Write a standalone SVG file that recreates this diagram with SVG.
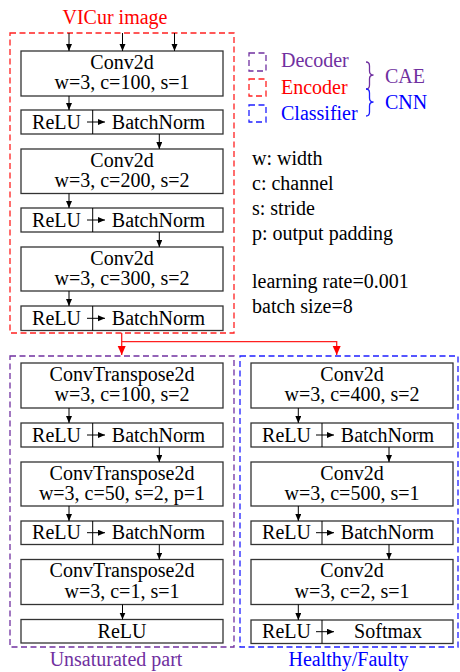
<svg xmlns="http://www.w3.org/2000/svg" width="460" height="672" viewBox="0 0 460 672" font-family="'Liberation Serif', 'Times New Roman', Times, 'DejaVu Serif', serif">
<defs>
<style>
text{font-family:'Liberation Serif', 'Times New Roman', Times, 'DejaVu Serif', serif;font-size:20px;fill:#000}
.c{text-anchor:middle}
.box{fill:#fff;stroke:#333;stroke-width:1.3}
.ln{stroke:#000;stroke-width:1;fill:none}
.red{fill:none;stroke:#FF2020;stroke-width:1.3;stroke-dasharray:6 3.5}
.pur{fill:none;stroke:#7030A0;stroke-width:1.3;stroke-dasharray:6 3.5}
.blu{fill:none;stroke:#1F1FFF;stroke-width:1.3;stroke-dasharray:6 3.5}
.tp{fill:#7030A0}.tr{fill:#FF0000}.tb{fill:#0000FF}
</style>
<marker id="a" markerUnits="userSpaceOnUse" markerWidth="8" markerHeight="8" refX="7" refY="3" orient="auto"><path d="M0,0 L7,3 L0,6 Z" fill="#000"/></marker>
<marker id="ar" markerUnits="userSpaceOnUse" markerWidth="10" markerHeight="10" refX="9" refY="4" orient="auto"><path d="M0,0 L9,4 L0,8 Z" fill="#FF0000"/></marker>
</defs>

<text class="c tr" x="115" y="24">VICur image</text>
<rect class="red" x="10" y="33" width="224" height="300"/>
<rect class="pur" x="10" y="356" width="224" height="291"/>
<rect class="blu" x="240" y="356" width="218" height="291"/>
<text class="c tp" x="116" y="666">Unsaturated part</text>
<text class="c tb" x="348.5" y="666">Healthy/Faulty</text>

<g id="legend">
<rect class="pur" x="249" y="53" width="17" height="18" stroke-dasharray="5 3"/>
<rect class="red" x="249" y="79" width="17" height="17" stroke-dasharray="5 3"/>
<rect class="blu" x="249" y="105" width="17" height="17" stroke-dasharray="5 3"/>
<text class="tp" x="281" y="67">Decoder</text>
<text class="tr" x="281" y="93.5">Encoder</text>
<text class="tb" x="281" y="120">Classifier</text>
<path d="M366,62 Q369.5,62 369.5,66 L369.5,71 Q369.5,75 373.5,75 Q369.5,75 369.5,79 L369.5,85 Q369.5,89 366,89" fill="none" stroke="#7030A0" stroke-width="1.3"/>
<path d="M366,89 Q369.5,89 369.5,93 L369.5,98 Q369.5,102 373.5,102 Q369.5,102 369.5,106 L369.5,112 Q369.5,116 366,116" fill="none" stroke="#1F1FFF" stroke-width="1.3"/>
<text class="tp" x="385" y="83">CAE</text>
<text class="tb" x="385" y="108.5">CNN</text>
<text x="252" y="165">w: width</text>
<text x="252" y="190">c: channel</text>
<text x="252" y="215">s: stride</text>
<text x="252" y="240">p: output padding</text>
<text x="252" y="288">learning rate=0.001</text>
<text x="252" y="313">batch size=8</text>
</g>

<g id="enc_conv1"><rect class="box" x="21" y="51" width="202" height="45"/><text class="c" x="122" y="68.5">Conv2d</text><text class="c" x="122" y="89">w=3, c=100, s=1</text></g>
<g id="enc_act1"><rect class="box" x="21" y="110" width="202" height="24"/><line class="ln" x1="92.7" y1="110" x2="92.7" y2="134" stroke="#333" stroke-width="1.3"/><text class="c" x="56.5" y="128.5">ReLU</text><text class="c" x="158.5" y="128.5">BatchNorm</text></g>
<g id="enc_conv2"><rect class="box" x="21" y="149" width="202" height="44.5"/><text class="c" x="122" y="166.5">Conv2d</text><text class="c" x="122" y="187">w=3, c=200, s=2</text></g>
<g id="enc_act2"><rect class="box" x="21" y="208" width="202" height="24"/><line class="ln" x1="92.7" y1="208" x2="92.7" y2="232" stroke="#333" stroke-width="1.3"/><text class="c" x="56.5" y="226.5">ReLU</text><text class="c" x="158.5" y="226.5">BatchNorm</text></g>
<g id="enc_conv3"><rect class="box" x="21" y="247" width="202" height="44"/><text class="c" x="122" y="264.5">Conv2d</text><text class="c" x="122" y="285">w=3, c=300, s=2</text></g>
<g id="enc_act3"><rect class="box" x="21" y="306" width="202" height="24.5"/><line class="ln" x1="92.7" y1="306" x2="92.7" y2="330.5" stroke="#333" stroke-width="1.3"/><text class="c" x="56.5" y="324.5">ReLU</text><text class="c" x="158.5" y="324.5">BatchNorm</text></g>

<g id="dec_conv1"><rect class="box" x="21" y="363" width="202" height="45"/><text class="c" x="122" y="380.5">ConvTranspose2d</text><text class="c" x="122" y="401">w=3, c=100, s=2</text></g>
<g id="dec_act1"><rect class="box" x="21" y="423" width="202" height="24"/><line class="ln" x1="92.7" y1="423" x2="92.7" y2="447" stroke="#333" stroke-width="1.3"/><text class="c" x="56.5" y="441.5">ReLU</text><text class="c" x="158.5" y="441.5">BatchNorm</text></g>
<g id="dec_conv2"><rect class="box" x="21" y="462" width="202" height="44"/><text class="c" x="122" y="479.5">ConvTranspose2d</text><text class="c" x="122" y="500">w=3, c=50, s=2, p=1</text></g>
<g id="dec_act2"><rect class="box" x="21" y="521" width="202" height="23.5"/><line class="ln" x1="92.7" y1="521" x2="92.7" y2="544.5" stroke="#333" stroke-width="1.3"/><text class="c" x="56.5" y="539">ReLU</text><text class="c" x="158.5" y="539">BatchNorm</text></g>
<g id="dec_conv3"><rect class="box" x="21" y="559.5" width="202" height="45"/><text class="c" x="122" y="577">ConvTranspose2d</text><text class="c" x="122" y="597.5">w=3, c=1, s=1</text></g>
<g id="dec_out"><rect class="box" x="21" y="619.5" width="202" height="23.5"/><text class="c" x="122" y="637.5">ReLU</text></g>

<g id="cls_conv1"><rect class="box" x="251" y="363" width="202" height="45"/><text class="c" x="352" y="380.5">Conv2d</text><text class="c" x="352" y="401">w=3, c=400, s=2</text></g>
<g id="cls_act1"><rect class="box" x="251" y="423" width="202" height="24"/><line class="ln" x1="322" y1="423" x2="322" y2="447" stroke="#333" stroke-width="1.3"/><text class="c" x="286.5" y="441.5">ReLU</text><text class="c" x="387.5" y="441.5">BatchNorm</text></g>
<g id="cls_conv2"><rect class="box" x="251" y="462" width="202" height="44"/><text class="c" x="352" y="479.5">Conv2d</text><text class="c" x="352" y="500">w=3, c=500, s=1</text></g>
<g id="cls_act2"><rect class="box" x="251" y="521" width="202" height="23.5"/><line class="ln" x1="322" y1="521" x2="322" y2="544.5" stroke="#333" stroke-width="1.3"/><text class="c" x="286.5" y="539">ReLU</text><text class="c" x="387.5" y="539">BatchNorm</text></g>
<g id="cls_conv3"><rect class="box" x="251" y="559.5" width="202" height="45"/><text class="c" x="352" y="577">Conv2d</text><text class="c" x="352" y="597.5">w=3, c=2, s=1</text></g>
<g id="cls_out"><rect class="box" x="251" y="620" width="202" height="23.5"/><line class="ln" x1="322" y1="620" x2="322" y2="643.5" stroke="#333" stroke-width="1.3"/><text class="c" x="286.5" y="638">ReLU</text><text class="c" x="388" y="638">Softmax</text></g>

<g id="connectors">
<line class="ln" x1="69" y1="33" x2="69" y2="51" marker-end="url(#a)"/>
<line class="ln" x1="122.5" y1="33" x2="122.5" y2="51" marker-end="url(#a)"/>
<line class="ln" x1="174.5" y1="33" x2="174.5" y2="51" marker-end="url(#a)"/>

<line class="ln" x1="69" y1="96" x2="69" y2="110" marker-end="url(#a)"/>
<line class="ln" x1="87" y1="122" x2="105" y2="122" marker-end="url(#a)"/>
<line class="ln" x1="159.3" y1="134" x2="159.3" y2="149" marker-end="url(#a)"/>
<line class="ln" x1="69" y1="193.5" x2="69" y2="208" marker-end="url(#a)"/>
<line class="ln" x1="87" y1="220" x2="105" y2="220" marker-end="url(#a)"/>
<line class="ln" x1="159.3" y1="232" x2="159.3" y2="247" marker-end="url(#a)"/>
<line class="ln" x1="69" y1="291" x2="69" y2="306" marker-end="url(#a)"/>
<line class="ln" x1="87" y1="318.3" x2="105" y2="318.3" marker-end="url(#a)"/>

<path d="M121.7,333 V341.7 H336.7 V355" fill="none" stroke="#FF2020" stroke-width="1.3" marker-end="url(#ar)"/>
<path d="M121.7,341.7 V355" fill="none" stroke="#FF2020" stroke-width="1.3" marker-end="url(#ar)"/>

<line class="ln" x1="69" y1="408" x2="69" y2="423" marker-end="url(#a)"/>
<line class="ln" x1="87" y1="435" x2="105" y2="435" marker-end="url(#a)"/>
<line class="ln" x1="159.3" y1="447" x2="159.3" y2="462" marker-end="url(#a)"/>
<line class="ln" x1="69" y1="506" x2="69" y2="521" marker-end="url(#a)"/>
<line class="ln" x1="87" y1="532.7" x2="105" y2="532.7" marker-end="url(#a)"/>
<line class="ln" x1="159.3" y1="544.5" x2="159.3" y2="559.5" marker-end="url(#a)"/>
<line class="ln" x1="122.5" y1="604.5" x2="122.5" y2="619.5" marker-end="url(#a)"/>

<line class="ln" x1="298.3" y1="408" x2="298.3" y2="423" marker-end="url(#a)"/>
<line class="ln" x1="316" y1="435" x2="334" y2="435" marker-end="url(#a)"/>
<line class="ln" x1="389" y1="447" x2="389" y2="462" marker-end="url(#a)"/>
<line class="ln" x1="298.3" y1="506" x2="298.3" y2="521" marker-end="url(#a)"/>
<line class="ln" x1="316" y1="532.7" x2="334" y2="532.7" marker-end="url(#a)"/>
<line class="ln" x1="389" y1="544.5" x2="389" y2="559.5" marker-end="url(#a)"/>
<line class="ln" x1="298.3" y1="604.5" x2="298.3" y2="620" marker-end="url(#a)"/>
<line class="ln" x1="316" y1="631.7" x2="334" y2="631.7" marker-end="url(#a)"/>
</g>
</svg>
